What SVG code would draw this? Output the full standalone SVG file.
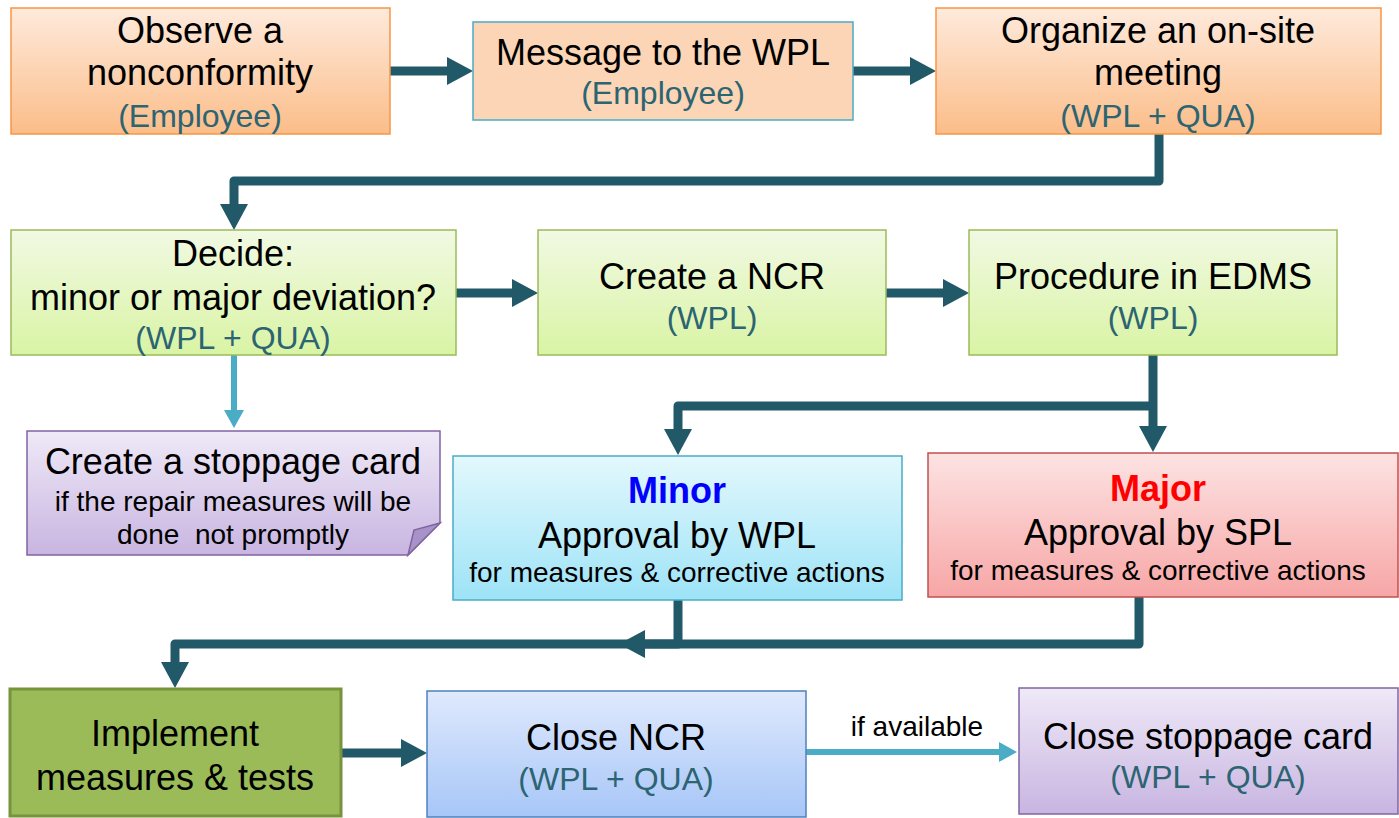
<svg xmlns="http://www.w3.org/2000/svg" width="1399" height="818" viewBox="0 0 1399 818">
<defs>
<linearGradient id="gOrange" x1="0" y1="0" x2="0" y2="1"><stop offset="0" stop-color="#feeadc"/><stop offset="1" stop-color="#fbbd89"/></linearGradient>
<linearGradient id="gGreen" x1="0" y1="0" x2="0" y2="1"><stop offset="0" stop-color="#f1f9e3"/><stop offset="1" stop-color="#d9f4a4"/></linearGradient>
<linearGradient id="gPurple" x1="0" y1="0" x2="0" y2="1"><stop offset="0" stop-color="#efe9f7"/><stop offset="1" stop-color="#c8b5e1"/></linearGradient>
<linearGradient id="gCyan" x1="0" y1="0" x2="0" y2="1"><stop offset="0" stop-color="#e3f8fd"/><stop offset="1" stop-color="#9de3f7"/></linearGradient>
<linearGradient id="gRed" x1="0" y1="0" x2="0" y2="1"><stop offset="0" stop-color="#fde3e3"/><stop offset="1" stop-color="#f7a6a6"/></linearGradient>
<linearGradient id="gBlue" x1="0" y1="0" x2="0" y2="1"><stop offset="0" stop-color="#dfe9fd"/><stop offset="1" stop-color="#a7c6f7"/></linearGradient>
<marker id="aDark" markerUnits="userSpaceOnUse" viewBox="0 0 26 28" refX="16" refY="14" markerWidth="26" markerHeight="28" orient="auto"><path d="M0,0 L26,14 L0,28 z" fill="#215968"/></marker>
<marker id="aLight" markerUnits="userSpaceOnUse" viewBox="0 0 18 20" refX="10" refY="10" markerWidth="18" markerHeight="20" orient="auto"><path d="M0,0 L18,10 L0,20 z" fill="#4bacc6"/></marker>
</defs>
<style>
text{font-family:"Liberation Sans",Arial,sans-serif;text-anchor:middle;fill:#000}
.t{font-size:36px}
.r{font-size:32px;fill:#2c6472}
.s{font-size:28px}
.b{font-size:36px;font-weight:bold}
.orange{fill:url(#gOrange);stroke:#f79646;stroke-width:1.5}
.green{fill:url(#gGreen);stroke:#9bbb59;stroke-width:1.5}
.purple{fill:url(#gPurple);stroke:#8064a2;stroke-width:1.5}
.dark{fill:none;stroke:#215968;stroke-width:9;stroke-linejoin:round}
.light{fill:none;stroke:#4bacc6;stroke-width:6}
</style>
<g id="connectors">
<path class="dark" d="M390,71 H463" marker-end="url(#aDark)"/>
<path class="dark" d="M853,71 H926" marker-end="url(#aDark)"/>
<path class="dark" d="M1159,134 V181 H234 V220" marker-end="url(#aDark)"/>
<path class="dark" d="M456,293 H528" marker-end="url(#aDark)"/>
<path class="dark" d="M886,293 H959" marker-end="url(#aDark)"/>
<path class="light" d="M234,355 V420" marker-end="url(#aLight)"/>
<path class="dark" d="M1153,355 V442" marker-end="url(#aDark)"/>
<path class="dark" d="M1153,406 H678 V445" marker-end="url(#aDark)"/>
<path class="dark" d="M1139,597 V644 H629" marker-end="url(#aDark)"/>
<path class="dark" d="M678,600 V644 H175 V678" marker-end="url(#aDark)"/>
<path class="dark" d="M341,753 H417" marker-end="url(#aDark)"/>
<path class="light" d="M806,752 H1009" marker-end="url(#aLight)"/>
<text x="917" y="736" style="font-size:28px">if available</text>
</g>
<g id="observe">
<rect class="orange" x="11" y="8" width="379" height="126"/>
<text class="t" x="200" y="43">Observe a</text>
<text class="t" x="200" y="85">nonconformity</text>
<text class="r" x="200" y="127">(Employee)</text>
</g>
<g id="message">
<rect x="473" y="22" width="380" height="98" fill="#fbd5b5" stroke="#4bacc6" stroke-width="1.5"/>
<text class="t" x="663" y="65">Message to the WPL</text>
<text class="r" x="663" y="104">(Employee)</text>
</g>
<g id="organize">
<rect class="orange" x="936" y="8" width="445" height="126"/>
<text class="t" x="1158" y="43">Organize an on-site</text>
<text class="t" x="1158" y="85">meeting</text>
<text class="r" x="1158" y="127">(WPL + QUA)</text>
</g>
<g id="decide">
<rect class="green" x="11" y="230" width="445" height="125"/>
<text class="t" x="233" y="266">Decide:</text>
<text class="t" x="233" y="310">minor or major deviation?</text>
<text class="r" x="233" y="349">(WPL + QUA)</text>
</g>
<g id="createncr">
<rect class="green" x="538" y="230" width="348" height="125"/>
<text class="t" x="712" y="289">Create a NCR</text>
<text class="r" x="712" y="329">(WPL)</text>
</g>
<g id="procedure">
<rect class="green" x="969" y="230" width="368" height="125"/>
<text class="t" x="1153" y="289">Procedure in EDMS</text>
<text class="r" x="1153" y="329">(WPL)</text>
</g>
<g id="stoppage">
<path class="purple" d="M27,431 H440 V523 L408,555 H27 Z"/>
<path d="M408,555 L414,530 L440,523 Z" fill="#a893c8" stroke="#8064a2" stroke-width="1.5"/>
<text class="t" x="233" y="474">Create a stoppage card</text>
<text class="s" x="233" y="511">if the repair measures will be</text>
<text class="s" x="233" y="544" style="white-space:pre">done  not promptly</text>
</g>
<g id="minor">
<rect x="453" y="456" width="449" height="144" fill="url(#gCyan)" stroke="#4bacc6" stroke-width="1.5"/>
<text class="b" x="677" y="503" style="fill:#0000ff">Minor</text>
<text class="t" x="677" y="548">Approval by WPL</text>
<text class="s" x="677" y="582">for measures &amp; corrective actions</text>
</g>
<g id="major">
<rect x="928" y="453" width="470" height="144" fill="url(#gRed)" stroke="#c0504d" stroke-width="1.5"/>
<text class="b" x="1158" y="501" style="fill:#ff0000">Major</text>
<text class="t" x="1158" y="545">Approval by SPL</text>
<text class="s" x="1158" y="580">for measures &amp; corrective actions</text>
</g>
<g id="implement">
<rect x="10" y="689" width="331" height="127" fill="#9bbb59" stroke="#77933c" stroke-width="3"/>
<text class="t" x="175" y="746">Implement</text>
<text class="t" x="175" y="790">measures &amp; tests</text>
</g>
<g id="closencr">
<rect x="427" y="691" width="379" height="126" fill="url(#gBlue)" stroke="#4f81bd" stroke-width="1.5"/>
<text class="t" x="616" y="750">Close NCR</text>
<text class="r" x="616" y="790">(WPL + QUA)</text>
</g>
<g id="closestoppage">
<rect class="purple" x="1019" y="688" width="379" height="126"/>
<text class="t" x="1208" y="749">Close stoppage card</text>
<text class="r" x="1208" y="788">(WPL + QUA)</text>
</g>
</svg>
